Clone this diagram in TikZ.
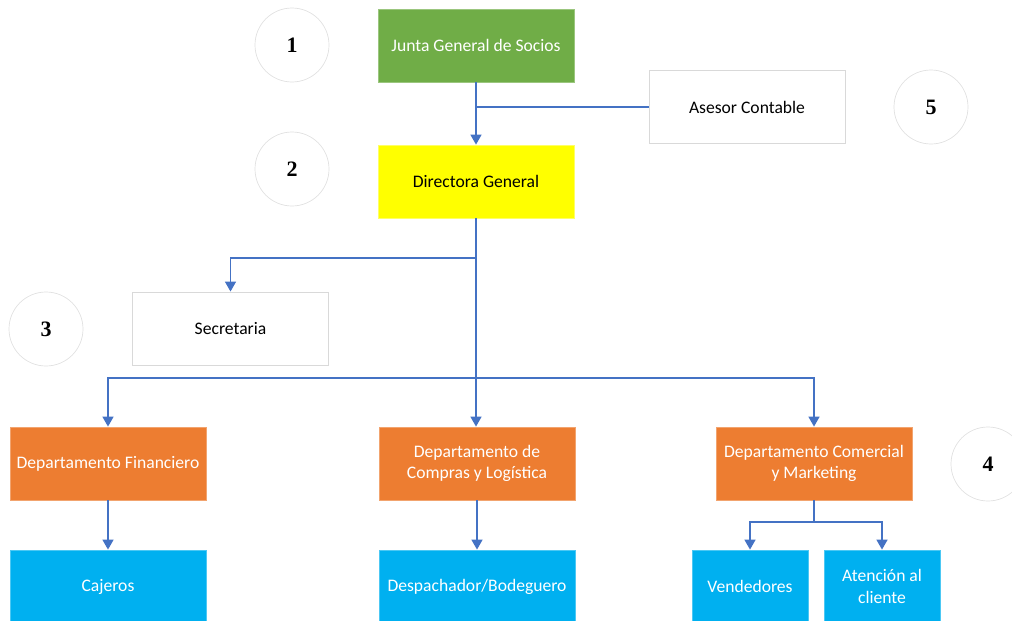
\documentclass[tikz,border=0pt]{standalone}
\usepackage{fontspec}
\setmainfont{Carlito}
\newfontfamily\numfont{Liberation Serif}
\usetikzlibrary{arrows.meta}
\definecolor{gGreen}{HTML}{70AD47}
\definecolor{gYellow}{HTML}{FFFF00}
\definecolor{gOrange}{HTML}{ED7D31}
\definecolor{gBlue}{HTML}{00B0F0}
\definecolor{gLine}{HTML}{4472C4}
\definecolor{gEdge}{HTML}{D9D9D9}
\tikzset{
  unit/.style={rectangle, minimum width=196pt, minimum height=73pt, inner sep=0pt,
    align=center, font=\fontsize{17.6}{21.5}\selectfont},
  green box/.style={unit, fill=gGreen, draw=gGreen!70!white, line width=0.8pt, text=white},
  yellow box/.style={unit, fill=gYellow, draw=gYellow!60!white, line width=0.8pt, text=black},
  white box/.style={unit, fill=white, draw=gEdge, line width=0.9pt, text=black},
  orange box/.style={unit, fill=gOrange, draw=gOrange!70!white, line width=0.8pt, text=white},
  blue box/.style={unit, fill=gBlue, draw=gBlue!70!white, line width=0.8pt, text=white},
  small blue/.style={blue box, minimum width=116pt},
  level mark/.style={circle, minimum size=74pt, inner sep=0pt, draw=gEdge!80!white,
    line width=0.7pt, font=\numfont\bfseries\fontsize{22}{24}\selectfont},
  link/.style={draw=gLine, line width=1.6pt},
  arrowlink/.style={link, -{Triangle[width=11pt,length=10pt]}},
}
\begin{document}
\begin{tikzpicture}[x=1pt, y=-1pt]
  \useasboundingbox (0,0) rectangle (1012,621);
  \clip (0,0) rectangle (1012,621);

  % level markers
  \node[level mark] (m1) at (292,45) {1};
  \node[level mark] (m2) at (292,169) {2};
  \node[level mark] (m3) at (46,329) {3};
  \node[level mark] (m4) at (988,464) {4};
  \node[level mark] (m5) at (931,107) {5};

  % top management
  \node[green box]  (jgs) at (476,45.5)  {Junta General de Socios};
  \node[white box]  (ase) at (747,107)   {Asesor Contable};
  \node[yellow box] (dir) at (476,181.5) {Directora General};
  \node[white box]  (sec) at (230.5,328.5) {Secretaria};

  % departments
  \node[orange box] (dfin) at (108,463.5) {Departamento Financiero};
  \node[orange box] (dcom) at (477,463.5) {Departamento de\\Compras y Log\'istica};
  \node[orange box] (dmkt) at (814,463.5) {Departamento Comercial\\y Marketing};

  % operational staff
  \node[blue box]   (caj) at (108,586.5) {Cajeros};
  \node[blue box]   (des) at (477,586.5) {Despachador/Bodeguero};
  \node[small blue] (ven) at (750,586.5) {Vendedores};
  \node[small blue] (ate) at (882,586.5) {Atenci\'on al\\cliente};

  % junctions
  \coordinate (j1) at (476,107);
  \coordinate (j2) at (476,258);
  \coordinate (j3) at (476,378);
  \coordinate (j4) at (814,522);

  % connectors
  \draw[arrowlink] (jgs.south) -- (dir.north);
  \draw[link] (j1) -- (ase.west);
  \draw[link] (dir.south) -- (j3);
  \draw[arrowlink] (j2) -| (sec.north);
  \draw[arrowlink] (j3) -| (dfin.north);
  \draw[arrowlink] (j3) -- (j3 |- dcom.north);
  \draw[arrowlink] (j3) -| (dmkt.north);
  \draw[arrowlink] (dfin.south) -- (caj.north);
  \draw[arrowlink] (dcom.south) -- (des.north);
  \draw[link] (dmkt.south) -- (j4);
  \draw[arrowlink] (j4) -| (ven.north);
  \draw[arrowlink] (j4) -| (ate.north);
\end{tikzpicture}
\end{document}
